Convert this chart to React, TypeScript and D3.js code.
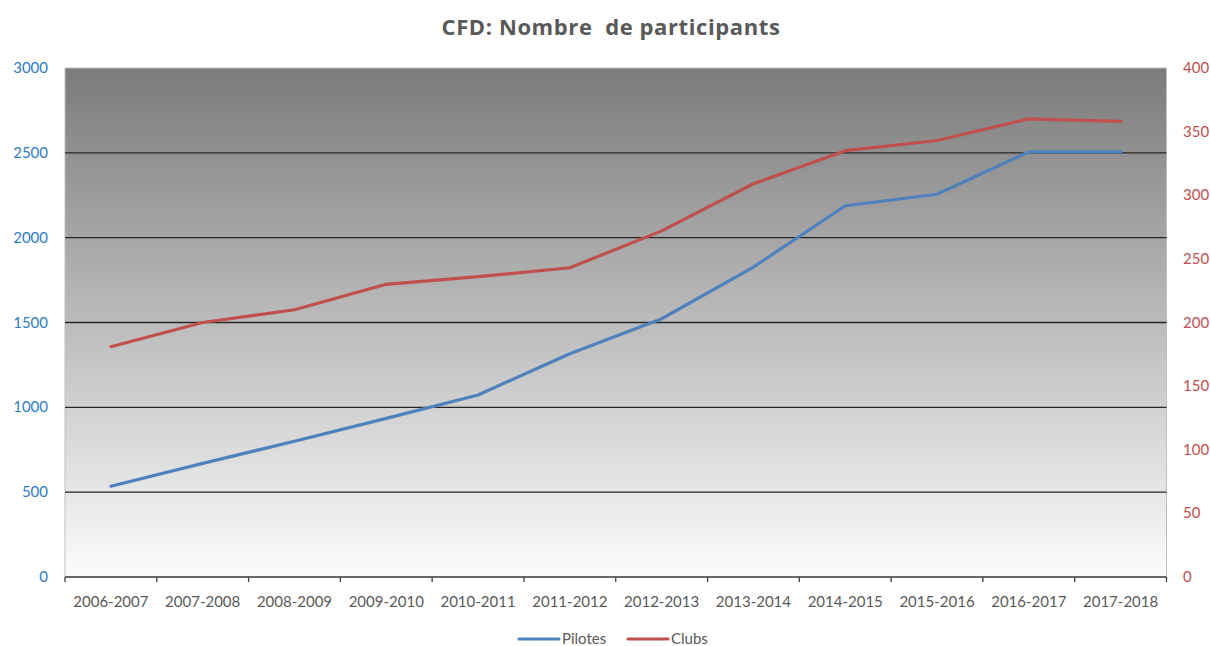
import React, { useEffect, useRef } from "react";
import * as d3 from "d3";

const seasons = [
  "2006-2007", "2007-2008", "2008-2009", "2009-2010", "2010-2011", "2011-2012",
  "2012-2013", "2013-2014", "2014-2015", "2015-2016", "2016-2017", "2017-2018",
];
const pilotes = [535, 670, 800, 935, 1073, 1316, 1522, 1827, 2188, 2256, 2506, 2506];
const clubs = [181, 200, 210, 230, 236, 243, 272, 309, 335, 343, 360, 358];
const leftTicks = [0, 500, 1000, 1500, 2000, 2500, 3000];
const rightTicks = [0, 50, 100, 150, 200, 250, 300, 350, 400];

const W = 1210;
const H = 646;
const FONT = "Lato, 'Open Sans', sans-serif";

const App = () => {
  const ref = useRef<SVGSVGElement | null>(null);

  useEffect(() => {
    const svg = d3.select(ref.current);
    svg.selectAll("*").remove();

    const m = { left: 65, right: W - 1166.5, top: 68, bottom: H - 577 };
    const iw = W - m.left - m.right;
    const ih = H - m.top - m.bottom;

    const x = d3.scaleBand().domain(seasons).range([m.left, m.left + iw]);
    const yL = d3.scaleLinear().domain([0, 3000]).range([m.top + ih, m.top]);
    const yR = d3.scaleLinear().domain([0, 400]).range([m.top + ih, m.top]);

    // fond en dégradé
    const grad = svg.append("defs").append("linearGradient")
      .attr("id", "bg").attr("x1", 0).attr("y1", 0).attr("x2", 0).attr("y2", 1);
    grad.append("stop").attr("offset", "0%").attr("stop-color", "#7b7b7b");
    grad.append("stop").attr("offset", "100%").attr("stop-color", "#fcfcfc");

    svg.append("rect")
      .attr("x", m.left).attr("y", m.top).attr("width", iw).attr("height", ih)
      .attr("fill", "url(#bg)").attr("stroke", "#bfbfbf").attr("stroke-width", 1);

    // grille
    svg.append("g").selectAll("line")
      .data(leftTicks.filter((t) => t > 0 && t < 3000))
      .join("line")
      .attr("x1", m.left).attr("x2", m.left + iw)
      .attr("y1", (d) => yL(d)).attr("y2", (d) => yL(d))
      .attr("stroke", "#262626").attr("stroke-width", 1.3);

    // axe x
    svg.append("line")
      .attr("x1", m.left).attr("x2", m.left + iw)
      .attr("y1", yL(0)).attr("y2", yL(0))
      .attr("stroke", "#404040").attr("stroke-width", 1.3);
    const bounds = seasons.map((s) => x(s) as number).concat([m.left + iw]);
    svg.append("g").selectAll("line")
      .data(bounds)
      .join("line")
      .attr("x1", (d) => d).attr("x2", (d) => d)
      .attr("y1", yL(0)).attr("y2", yL(0) + 5)
      .attr("stroke", "#404040").attr("stroke-width", 1.3);

    svg.append("g").selectAll("text")
      .data(seasons)
      .join("text")
      .attr("x", (d) => (x(d) as number) + x.bandwidth() / 2)
      .attr("y", 607)
      .attr("text-anchor", "middle")
      .attr("font-family", FONT).attr("font-size", 15).attr("fill", "#595959")
      .text((d) => d);

    // axes y
    svg.append("g").selectAll("text")
      .data(leftTicks)
      .join("text")
      .attr("x", 48).attr("y", (d) => yL(d) + 5)
      .attr("text-anchor", "end")
      .attr("font-family", FONT).attr("font-size", 15).attr("fill", "#2e7cc4")
      .text((d) => d);

    svg.append("g").selectAll("text")
      .data(rightTicks)
      .join("text")
      .attr("x", 1183).attr("y", (d) => yR(d) + 5)
      .attr("text-anchor", "start")
      .attr("font-family", FONT).attr("font-size", 15).attr("fill", "#c0504d")
      .text((d) => d);

    // courbes
    const cx = (i: number) => (x(seasons[i]) as number) + x.bandwidth() / 2;
    const lineL = d3.line<number>().x((_, i) => cx(i)).y((d) => yL(d));
    const lineR = d3.line<number>().x((_, i) => cx(i)).y((d) => yR(d));

    svg.append("path").datum(pilotes).attr("d", lineL)
      .attr("fill", "none").attr("stroke", "#4f81bd").attr("stroke-width", 3.2)
      .attr("stroke-linecap", "round").attr("stroke-linejoin", "round");
    svg.append("path").datum(clubs).attr("d", lineR)
      .attr("fill", "none").attr("stroke", "#c0504d").attr("stroke-width", 3.2)
      .attr("stroke-linecap", "round").attr("stroke-linejoin", "round");

    // titre
    svg.append("text")
      .attr("x", 611).attr("y", 35)
      .attr("text-anchor", "middle")
      .attr("font-family", "'Open Sans', sans-serif").attr("font-size", 22).attr("font-weight", "bold")
      .attr("letter-spacing", 0.6)
      .attr("fill", "#595959")
      .attr("xml:space", "preserve")
      .style("white-space", "pre")
      .text("CFD: Nombre  de participants");

    // légende
    const legend = [
      { name: "Pilotes", color: "#4f81bd", x: 519 },
      { name: "Clubs", color: "#c0504d", x: 628 },
    ];
    const lg = svg.append("g").selectAll("g").data(legend).join("g");
    lg.append("line")
      .attr("x1", (d) => d.x).attr("x2", (d) => d.x + 40)
      .attr("y1", 639).attr("y2", 639)
      .attr("stroke", (d) => d.color).attr("stroke-width", 3.2)
      .attr("stroke-linecap", "round");
    lg.append("text")
      .attr("x", (d) => d.x + 43).attr("y", 644)
      .attr("font-family", FONT).attr("font-size", 15).attr("fill", "#595959")
      .text((d) => d.name);
  }, []);

  return (
    <svg
      ref={ref}
      width={W}
      height={H}
      style={{ position: "absolute", left: 0, top: 0, background: "#fff" }}
    />
  );
};

export default App;
